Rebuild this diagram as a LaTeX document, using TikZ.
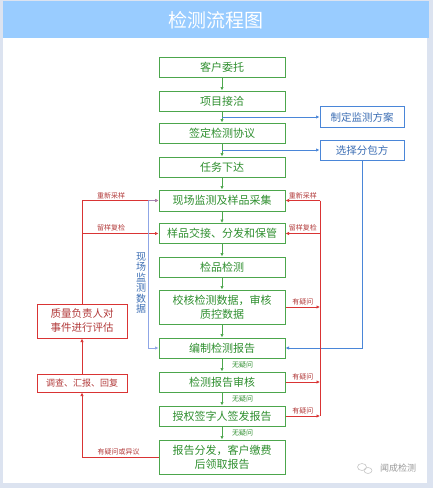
\documentclass[tikz,border=0pt]{standalone}
\usepackage{fontspec}
\setmainfont{Noto Sans CJK SC}
\usetikzlibrary{arrows.meta,calc}
\definecolor{gbox}{HTML}{4CA64C}
\definecolor{gtext}{HTML}{2F8F2F}
\definecolor{bbox}{HTML}{4A86D8}
\definecolor{btext}{HTML}{3C6EB4}
\definecolor{rline}{HTML}{D93434}
\definecolor{rtext}{HTML}{B23A3A}
\definecolor{titlebg}{HTML}{99CCFF}
\definecolor{framebg}{HTML}{DCE3F0}
\definecolor{ldata}{HTML}{8FA6E6}
\tikzset{
  mbox/.style={draw=gbox, line width=1pt, text=gtext, minimum width=126pt, minimum height=20pt, inner sep=0pt, align=center, font=\fontsize{11}{14}\selectfont},
  bluebox/.style={draw=bbox, line width=1pt, text=btext, minimum width=84pt, minimum height=20pt, inner sep=0pt, align=center, font=\fontsize{10.5}{13}\selectfont},
  redbox/.style={draw=rline, line width=1pt, text=rtext, minimum width=90pt, minimum height=18pt, inner sep=0pt, align=center, font=\fontsize{10.5}{14}\selectfont},
  garrow/.style={draw=gbox, line width=1pt, -{Latex[length=3.5pt,width=3.5pt]}},
  barrow/.style={draw=bbox, line width=0.9pt, -{Latex[length=3.5pt,width=3.5pt]}},
  rarrow/.style={draw=rline, line width=0.9pt, -{Latex[length=3.5pt,width=3.5pt]}},
  rplain/.style={draw=rline, line width=0.9pt},
  lbl/.style={font=\fontsize{7}{8}\selectfont, text=rtext, inner sep=1.5pt},
  glbl/.style={font=\fontsize{7}{8}\selectfont, text=gtext, inner sep=1.5pt},
}
\begin{document}
\begin{tikzpicture}[x=1pt,y=-1pt]
\fill[framebg] (0,0) rectangle (433,488);
\useasboundingbox (0,0) rectangle (433,488);
\fill[white] (3,1) rectangle (427,483);
\fill[titlebg] (3,1) rectangle (429,38);
\node[text=white, font=\fontsize{19}{22}\selectfont] (title) at (216,20) {检测流程图};

% main column
\node[mbox] (n1) at (222,67) {客户委托};
\node[mbox] (n2) at (222,101) {项目接洽};
\node[mbox] (n3) at (222,133) {签定检测协议};
\node[mbox] (n4) at (222,167) {任务下达};
\node[mbox, minimum height=21pt] (n5) at (222,200.5) {现场监测及样品采集};
\node[mbox] (n6) at (222,233.5) {样品交接、分发和保管};
\node[mbox] (n7) at (222,267) {检品检测};
\node[mbox, minimum height=34pt] (n8) at (222,307) {校核检测数据，审核\\质控数据};
\node[mbox] (n9) at (222,348) {编制检测报告};
\node[mbox] (n10) at (222,382) {检测报告审核};
\node[mbox] (n11) at (222,416) {授权签字人签发报告};
\node[mbox, minimum height=34pt] (n12) at (222,457) {报告分发，客户缴费\\后领取报告};

% blue boxes
\node[bluebox, minimum height=21pt] (b1) at (362,117) {制定监测方案};
\node[bluebox] (b2) at (362,150) {选择分包方};

% red boxes
\node[redbox, minimum height=34pt] (r1) at (82,321) {质量负责人对\\事件进行评估};
\node[redbox, font=\fontsize{9}{11}\selectfont] (r2) at (82,383) {调查、汇报、回复};

% green arrows
\draw[garrow] (n1) -- (n2);
\draw[garrow] (n2) -- (n3);
\draw[garrow] (n3) -- (n4);
\draw[garrow] (n4) -- (n5);
\draw[garrow] (n5) -- (n6);
\draw[garrow] (n6) -- (n7);
\draw[garrow] (n7) -- (n8);
\draw[garrow] (n8) -- (n9);
\draw[garrow] (n9) -- node[glbl, right, xshift=8pt] {无疑问} (n10);
\draw[garrow] (n10) -- node[glbl, right, xshift=8pt] {无疑问} (n11);
\draw[garrow] (n11) -- node[glbl, right, xshift=8pt] {无疑问} (n12);

% blue connectors
\coordinate (c1) at ($(n2.south)!0.5!(n3.north)$);
\coordinate (c2) at ($(n3.south)!0.5!(n4.north)$);
\draw[barrow] (c1) -- (b1.west);
\draw[barrow] (c2) -- (b2.west);
\draw[barrow] (b2.south) |- (n9.east);

% red left
\draw[rarrow] (r1.north) |- node[lbl, above, pos=0.69] {重新采样} (n5.west);
\draw[rarrow] (r1.north |- n6.west) -- node[lbl, above, pos=0.38] {留样复检} (n6.west);
\draw[rarrow] (r2.north) -- (r1.south);
\draw[rarrow] (n12.west) -| node[lbl, above, pos=0.26] {有疑问或异议} (r2.south);

% blue left data line
\coordinate (L) at (148,200.5);
\draw[barrow, draw=ldata] (L) |- (n9.west);
\draw[barrow, draw=ldata!70!rline] (L) -- (n5.west);
\node[text=btext, align=center, font=\fontsize{10}{10.5}\selectfont, inner sep=0pt] (vt) at (141,283) {现\\场\\监\\测\\数\\据};

% red right
\coordinate (RT) at (320,200.5);
\coordinate (RB) at (320,416);
\draw[rplain] (RT) -- (RB);
\draw[rarrow] (RT) -- node[lbl, above] {重新采样} (n5.east);
\draw[rarrow] (RT |- n6.east) -- node[lbl, above] {留样复检} (n6.east);
\draw[rarrow] (n8.east) -- node[lbl, above] {有疑问} (n8.east -| RT);
\draw[rarrow] (n10.east) -- node[lbl, above] {有疑问} (n10.east -| RT);
\draw[rarrow] (n11.east) -- node[lbl, above] {有疑问} (RB);

% watermark
\node[text=black!40, font=\fontsize{9}{10}\selectfont, inner sep=0pt] (wm) at (398,468) {闻成检测};
\draw[black!22, line width=0.6pt] (362,467) ellipse (4.5pt and 3.5pt);
\draw[black!22, line width=0.6pt] (368,470.5) ellipse (4pt and 3pt);
\end{tikzpicture}
\end{document}
